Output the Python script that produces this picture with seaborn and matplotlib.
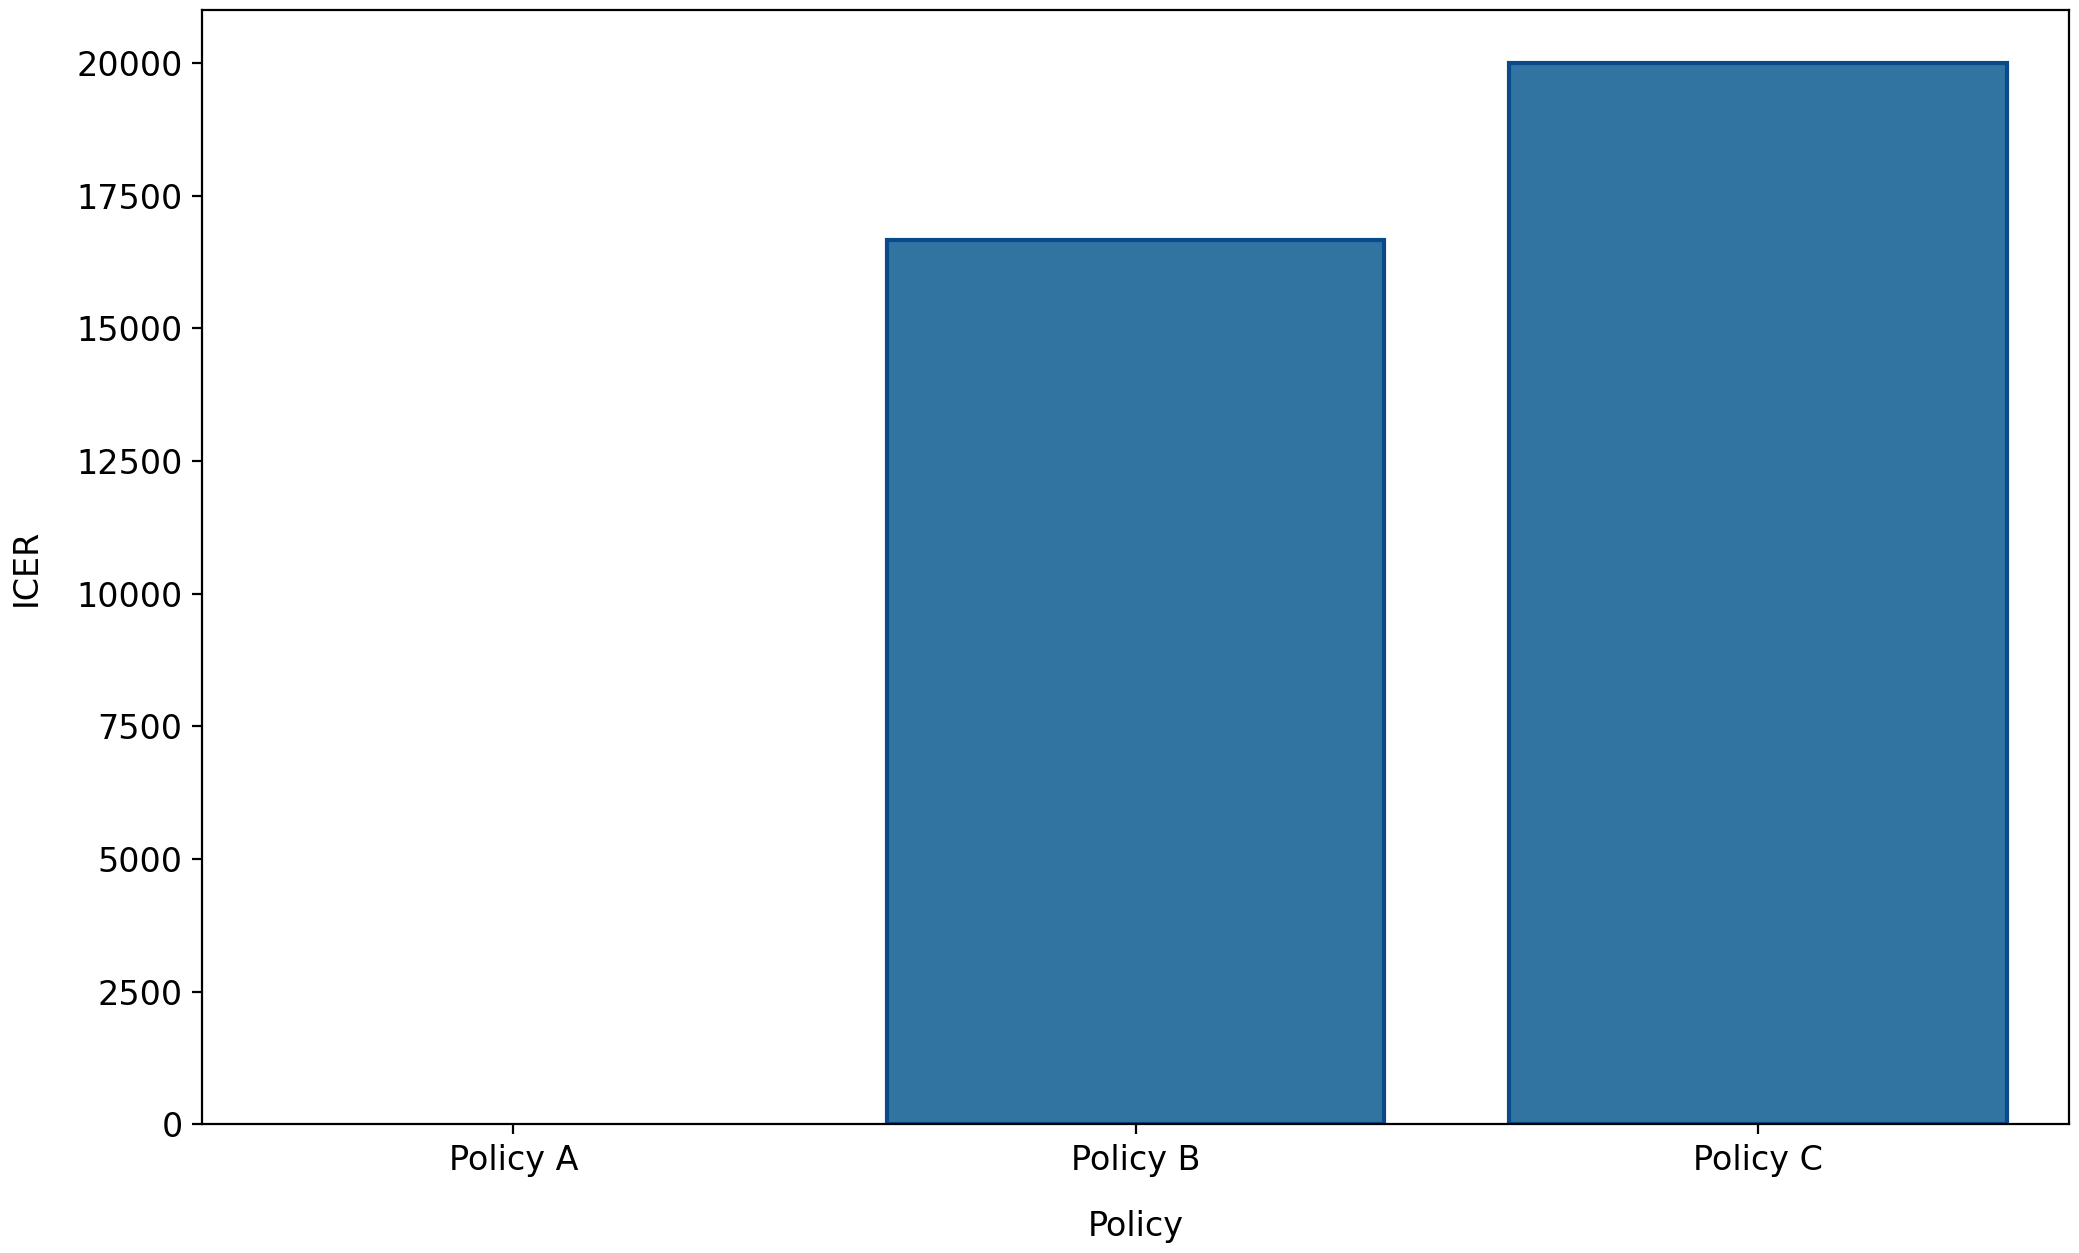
import numpy as np
import pandas as pd
import seaborn as sns
import matplotlib.pyplot as plt

policies = ['Policy A', 'Policy B', 'Policy C']
# Policy A has no ICER (reference strategy), so no bar is drawn
icer = [np.nan, 16667, 20000]

df = pd.DataFrame({'Policy': policies, 'ICER': icer})

plt.rcParams['font.family'] = ['DejaVu Sans']
plt.rcParams['font.size'] = 12

fig, ax = plt.subplots(figsize=(10.395, 6.265), dpi=200)
sns.barplot(data=df, x='Policy', y='ICER', order=policies, color='#3274a1',
            saturation=1, edgecolor='#0b4a8a', linewidth=1.5, ax=ax)
ax.set_ylim(0, 21000)
ax.set_xlabel('Policy', fontsize=12, labelpad=12)
ax.set_ylabel('ICER', fontsize=12, labelpad=12)
ax.tick_params(axis='both', labelsize=12)

fig.tight_layout(pad=0.3)
fig.savefig('out.png')
